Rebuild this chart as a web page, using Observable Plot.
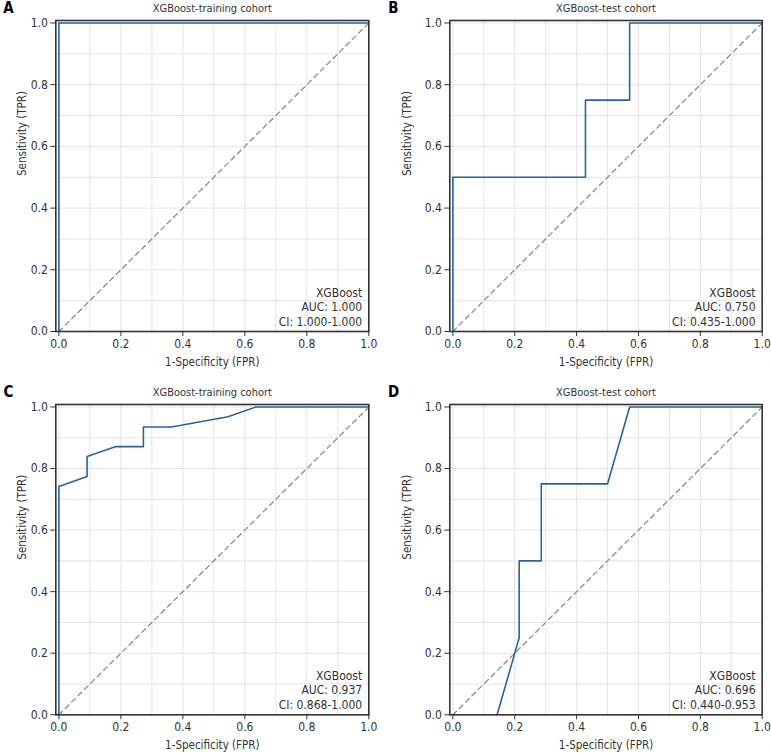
<!DOCTYPE html>
<html>
<head>
<meta charset="utf-8">
<script src="https://cdn.jsdelivr.net/npm/d3@7"></script>
<script src="https://cdn.jsdelivr.net/npm/@observablehq/plot@0.6"></script>
<style>
  html, body { margin: 0; padding: 0; background: #fff; overflow: hidden; }
  #root { position: relative; width: 771px; height: 753px; }
  .panel { position: absolute; }
</style>
</head>
<body>
<div id="root"></div>
<script>
// ---- Data ----
const panelLetters = ["A", "B", "C", "D"];
const panelTitles = ["XGBoost-training cohort", "XGBoost-test cohort", "XGBoost-training cohort", "XGBoost-test cohort"];
const modelName = "XGBoost";
const aucLabels = ["AUC: 1.000", "AUC: 0.750", "AUC: 0.937", "AUC: 0.696"];
const ciLabels = ["CI: 1.000-1.000", "CI: 0.435-1.000", "CI: 0.868-1.000", "CI: 0.440-0.953"];

const fprA = [0, 0, 1];
const tprA = [0, 1, 1];

const fprB = [0, 0, 0.4286, 0.4286, 0.5714, 0.5714, 1];
const tprB = [0, 0.5, 0.5, 0.75, 0.75, 1, 1];

const fprC = [0, 0, 0.0909, 0.0909, 0.1818, 0.2727, 0.2727, 0.3636, 0.5455, 0.6364, 1];
const tprC = [0, 0.742, 0.774, 0.839, 0.871, 0.871, 0.935, 0.935, 0.968, 1, 1];

const fprD = [0.1429, 0.2143, 0.2143, 0.2857, 0.2857, 0.5, 0.5714, 1];
const tprD = [0, 0.25, 0.5, 0.5, 0.75, 0.75, 1, 1];

const diagonal = [0, 1];
const tickValues = [0, 0.2, 0.4, 0.6, 0.8, 1.0];
const gridValues = [0, 0.1, 0.2, 0.3, 0.4, 0.5, 0.6, 0.7, 0.8, 0.9, 1.0];
const xLabel = "1-Specificity (FPR)";
const yLabel = "Sensitivity (TPR)";

// ---- Layout ----
const FONT = "'DejaVu Sans Condensed', Tahoma, 'DejaVu Sans', sans-serif";
const panels = [
  {fpr: fprA, tpr: tprA, left: 0,   top: 0,   width: 385, height: 384, ml: 55.3, mr: 16.7},
  {fpr: fprB, tpr: tprB, left: 385, top: 0,   width: 386, height: 384, ml: 64.3, mr: 9.3},
  {fpr: fprC, tpr: tprC, left: 0,   top: 384, width: 385, height: 369, ml: 55.3, mr: 16.7},
  {fpr: fprD, tpr: tprD, left: 385, top: 384, width: 386, height: 369, ml: 64.3, mr: 9.3}
];
const marginTop = 20;
const frameBottomAbs = [331, 331, 714.3, 714.3];

const root = document.getElementById("root");
panels.forEach((p, i) => {
  const mb = p.height - (frameBottomAbs[i] - p.top);
  const curve = p.fpr.map((x, k) => ({x, y: p.tpr[k]}));
  const chart = Plot.plot({
    width: p.width,
    height: p.height,
    marginTop,
    marginBottom: mb,
    marginLeft: p.ml,
    marginRight: p.mr,
    style: {fontFamily: FONT, fontSize: "11px", background: "transparent", overflow: "visible"},
    x: {domain: [-0.01, 1.0]},
    y: {domain: [0, 1.008]},
    marks: [
      Plot.gridX(gridValues, {stroke: "#e4e4e4", strokeOpacity: 1, strokeWidth: 1}),
      Plot.gridY(gridValues, {stroke: "#e4e4e4", strokeOpacity: 1, strokeWidth: 1}),
      Plot.line(diagonal, {x: d => d, y: d => d, stroke: "#8c8c8c", strokeWidth: 1.3, strokeDasharray: "5,4"}),
      Plot.line(curve, {x: "x", y: "y", stroke: "#2862a5", strokeWidth: 1.6}),
      Plot.frame({stroke: "#333", strokeWidth: 1.6}),
      Plot.axisX(tickValues, {tickFormat: d3.format(".1f"), tickSize: 5, tickPadding: 3, label: null, stroke: "#333", fill: "#333", fontSize: 12}),
      Plot.axisY(tickValues, {tickFormat: d3.format(".1f"), tickSize: 5, tickPadding: 3, label: null, stroke: "#333", fill: "#333", fontSize: 12}),
      Plot.text([xLabel], {text: d => d, frameAnchor: "bottom", dy: 30.7, lineAnchor: "middle", fill: "#333", fontSize: 11.5}),
      Plot.text([yLabel], {text: d => d, frameAnchor: "left", dx: -(p.ml - 21.5), rotate: -90, lineAnchor: "middle", fill: "#333", fontSize: 11.5}),
      Plot.text([panelTitles[i]], {text: d => d, frameAnchor: "top", dy: -12.5, lineAnchor: "middle", fill: "#333", fontSize: 11}),
      Plot.text([panelLetters[i]], {text: d => d, frameAnchor: "top-left", dx: -(p.ml - 8), dy: -12, lineAnchor: "middle", textAnchor: "middle", fill: "#000", fontSize: 15, fontWeight: "bold"}),
      Plot.text([[modelName, aucLabels[i], ciLabels[i]].join("\n")], {text: d => d, frameAnchor: "bottom-right", dx: -6.6, dy: -25, lineAnchor: "middle", textAnchor: "end", lineHeight: 1.2, fill: "#333", fontSize: 12})
    ]
  });
  chart.classList.add("panel");
  chart.style.left = p.left + "px";
  chart.style.top = p.top + "px";
  root.appendChild(chart);
});
</script>
</body>
</html>
